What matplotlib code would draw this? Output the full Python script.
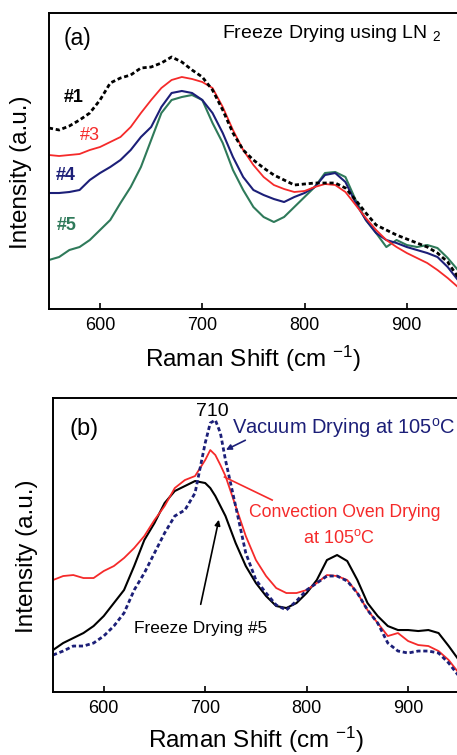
import matplotlib
matplotlib.use('Agg')
import numpy as np
from matplotlib import pyplot as plt

plt.rcParams['font.family'] = ['Liberation Sans', 'DejaVu Sans']
plt.rcParams['mathtext.default'] = 'regular'

# raman shift grid (cm^-1)
shift_a = [550, 560, 570, 580, 590, 600, 610, 620, 630, 640, 650, 660, 670, 680,
           690, 700, 710, 720, 730, 740, 750, 760, 770, 780, 790, 800, 810, 820,
           830, 840, 850, 860, 870, 880, 890, 900, 910, 920, 930, 940, 950]

# (a) freeze drying using LN2, samples #1 #3 #4 #5
s1 = [181, 179, 183, 189, 196, 209, 226, 231, 234, 241, 242, 246, 252, 247,
      239, 232, 219, 199, 176, 159, 149, 141, 134, 129, 124, 125, 126, 126,
      126, 121, 109, 96, 84, 79, 74, 70, 66, 62, 56, 47, 32]
s3 = [154, 153, 154, 155, 159, 162, 167, 172, 182, 196, 209, 221, 229, 232,
      230, 227, 221, 202, 179, 159, 144, 132, 124, 120, 117, 118, 122, 125,
      124, 117, 104, 91, 79, 69, 62, 56, 51, 46, 39, 31, 22]
s4 = [116, 116, 117, 119, 129, 136, 142, 149, 159, 172, 182, 202, 216, 218,
      216, 209, 196, 176, 152, 132, 119, 114, 110, 107, 112, 116, 122, 134,
      136, 127, 106, 89, 76, 69, 66, 62, 59, 56, 52, 42, 29]
s5 = [49, 52, 59, 62, 69, 79, 89, 106, 122, 142, 169, 196, 209, 212,
      214, 209, 186, 166, 139, 119, 102, 92, 87, 92, 102, 112, 122, 136,
      137, 132, 109, 89, 76, 62, 69, 64, 62, 64, 61, 51, 39]

# (b) drying method comparison
shift_b = [550, 560, 570, 580, 590, 600, 610, 620, 630, 640, 650, 660, 670, 680,
           690, 700, 705, 710, 715, 720, 730, 740, 750, 760, 770, 780, 790, 800,
           810, 820, 830, 840, 850, 860, 870, 880, 890, 900, 910, 920, 930, 940, 950]
convection = [112, 116, 117, 114, 114, 121, 126, 134, 144, 156, 172, 186, 204, 212,
              216, 232, 242, 237, 227, 216, 186, 156, 132, 116, 104, 99, 99, 102,
              109, 117, 116, 112, 99, 82, 69, 56, 59, 51, 47, 46, 41, 32, 19]
freeze5 = [42, 49, 54, 59, 66, 76, 89, 102, 126, 152, 169, 189, 201, 206,
           211, 209, 204, 196, 186, 176, 149, 126, 109, 96, 86, 84, 89, 99,
           112, 132, 137, 131, 112, 89, 76, 66, 62, 62, 61, 62, 59, 46, 32]
vacuum = [37, 41, 46, 46, 49, 56, 66, 79, 102, 119, 139, 159, 176, 182,
          199, 249, 269, 272, 259, 232, 186, 139, 112, 99, 87, 82, 91, 102,
          109, 116, 116, 111, 99, 82, 69, 49, 41, 39, 41, 41, 39, 29, 16]

xticks = [600, 700, 800, 900]

RED = '#f52a2a'
NAVY = '#1c1f78'
GREEN = '#2f7a5a'

fig = plt.figure(figsize=(4.57, 7.55), dpi=100)
ax1 = fig.add_axes([0.107, 0.5907, 0.895, 0.3921])
ax2 = fig.add_axes([0.116, 0.0834, 0.888, 0.3894])

for ax, top, lx, lp in ((ax1, 296, -0.042, 7), (ax2, 294, -0.037, 5)):
    ax.set_xlim(550, 950)
    ax.set_ylim(0, top)
    ax.set_yticks([])
    ax.set_xticks(xticks)
    ax.tick_params(axis='x', direction='in', length=4, width=1.2, labelsize=13, pad=6)
    for sp in ax.spines.values():
        sp.set_linewidth(1.4)
    ax.spines['right'].set_visible(False)
    ax.set_xlabel('Raman Shift (cm $^{-1}$)', fontsize=17.5, labelpad=lp)
    ax.set_ylabel('Intensity (a.u.)', fontsize=17.5)
    ax.yaxis.set_label_coords(lx, 0.463)

# panel (a)
ax1.plot(shift_a, s5, color=GREEN, lw=1.5)
ax1.plot(shift_a, s4, color=NAVY, lw=1.5)
ax1.plot(shift_a, s3, color=RED, lw=1.3)
ax1.plot(shift_a, s1, color='black', lw=2.0, ls=(0, (1.5, 1)))

ax1.text(0.035, 0.915, '(a)', transform=ax1.transAxes, fontsize=16.5, va='center')
ax1.text(0.422, 0.93, 'Freeze Drying using LN $_{2}$', transform=ax1.transAxes,
         fontsize=14, va='center')
ax1.text(565, 211, '#1', fontsize=13, fontweight='bold', color='black', va='center')
ax1.text(580, 174, '#3', fontsize=13, color=RED, va='center')
ax1.text(557, 134, '#4', fontsize=13, fontweight='bold', color=NAVY, va='center')
ax1.text(558, 84, '#5', fontsize=13, fontweight='bold', color=GREEN, va='center')

# panel (b)
ax2.plot(shift_b, freeze5, color='black', lw=1.5)
ax2.plot(shift_b, convection, color=RED, lw=1.3)
ax2.plot(shift_b, vacuum, color=NAVY, lw=2.0, ls=(0, (1.5, 1)))

ax2.text(0.04, 0.895, '(b)', transform=ax2.transAxes, fontsize=17, va='center')
ax2.text(707, 281, '710', fontsize=14, ha='center', va='center')
ax2.text(726, 264, 'Vacuum Drying at 105$^{o}$C', fontsize=14.5, color=NAVY, va='center')
ax2.annotate('', xy=(718, 241), xytext=(742, 253),
             arrowprops=dict(arrowstyle='-|>', color=NAVY, lw=1.2, mutation_scale=8))
ax2.text(743, 180, 'Convection Oven Drying', fontsize=12.7, color=RED, va='center')
ax2.text(832, 154, 'at 105$^{o}$C', fontsize=13, color=RED, ha='center', va='center')
ax2.plot([719, 766], [215, 192], color=RED, lw=1.2)
ax2.text(630, 64, 'Freeze Drying #5', fontsize=12.5, color='black', va='center')
ax2.annotate('', xy=(714, 175), xytext=(695, 85),
             arrowprops=dict(arrowstyle='-|>', color='black', lw=1.2, mutation_scale=8))

fig.savefig('out.png', dpi=100)
